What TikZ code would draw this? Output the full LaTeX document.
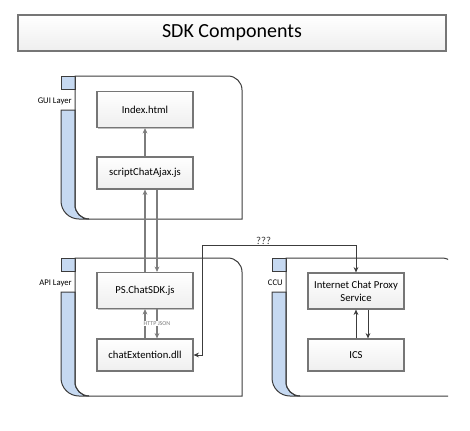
\documentclass[tikz,border=0pt]{standalone}
\usepackage{fontspec}
\setmainfont{Carlito}
\usetikzlibrary{arrows.meta, shadows}
\definecolor{tabblue}{RGB}{198,217,241}
\definecolor{framegray}{RGB}{60,60,60}
\definecolor{boxgray}{RGB}{118,118,118}
\definecolor{linkgray}{RGB}{125,125,125}

\begin{document}
\begin{tikzpicture}[
    x=0.75pt, y=-0.75pt,
    comp/.style={draw=boxgray, line width=0.9pt, top color=white, bottom color=gray!13, minimum width=72pt, minimum height=27pt, inner sep=1pt, align=center, font=\fontsize{8}{9.5}\selectfont, drop shadow={shadow xshift=0.9pt, shadow yshift=-0.9pt, fill=black, opacity=0.25}},
    titlebox/.style={comp, minimum width=321pt, minimum height=27pt, font=\fontsize{15}{18}\selectfont},
    frame/.style={draw=framegray, line width=0.75pt},
    tab/.style={frame, fill=tabblue},
    layerlabel/.style={anchor=east, inner sep=0pt, font=\fontsize{6.5}{7}\selectfont},
    flow/.style={-{Stealth[length=4pt, width=3.6pt]}, line width=1pt, linkgray},
    link/.style={{Stealth[length=4pt, width=3.6pt]}-{Stealth[length=4pt, width=3.6pt]}, line width=0.75pt, framegray},
    callout/.style={-{Stealth[length=4pt, width=3.6pt]}, line width=0.75pt, framegray}
]
    \useasboundingbox (0,0) rectangle (470,430);

    % Title
    \node[titlebox] (title) at (232,33) {SDK Components};

    % Layers
    \begin{scope}
    \clip (0,0) rectangle (448,430);
    \foreach \lx/\ty/\rx/\by/\lbl in {61/76/242/219/GUI Layer, 61/258/242/396/API Layer, 272/258/456/396/CCU}{
        \filldraw[tab] (\lx,\ty) rectangle ({\lx+14},{\ty+13});
        \filldraw[tab] (\lx,{\ty+34}) -- (\lx,{\by-18}) arc[start angle=180, end angle=90, radius=18] -- ({\lx+28},\by) arc[start angle=90, end angle=180, radius=14] -- ({\lx+14},{\ty+34}) -- cycle;
        \draw[frame] ({\lx+14},\ty) -- ({\rx-14},\ty) arc[start angle=-90, end angle=0, radius=14] -- (\rx,\by) -- ({\lx+28},\by) arc[start angle=90, end angle=180, radius=14] -- cycle;
        \node[layerlabel] at ({\lx+11},{\ty+25}) {\lbl};
    }
    \end{scope}

    % Components
    \node[comp] (index) at (145,109.5) {Index.html};
    \node[comp, minimum height=24pt] (script) at (145,173) {scriptChatAjax.js};
    \node[comp] (ps) at (145,290.5) {PS.ChatSDK.js};
    \node[comp, minimum height=24pt] (chatext) at (145,355) {chatExtention.dll};
    \node[comp] (proxy) at (356,291) {Internet Chat Proxy\\Service};
    \node[comp, minimum height=24pt] (ics) at (356,355) {ICS};
    \coordinate (unknown) at (202,245);

    % Connections
    \draw[flow] (script.north) -- (index.south);
    \draw[flow] (ps.north) -- (script.south);
    \draw[flow] ([xshift=9pt]script.south) -- ([xshift=9pt]ps.north);
    \draw[flow] (chatext.north) -- (ps.south);
    \draw[flow] ([xshift=9pt]ps.south) -- node[fill=white, inner sep=0.3pt, font=\fontsize{4.5}{5}\selectfont] {HTTP JSON} ([xshift=9pt]chatext.north);
    \draw[link] (proxy.north) |- node[pos=0.8, above, inner sep=0.3pt, font=\fontsize{8}{9}\selectfont] {???} (unknown) |- (chatext.east);
    \draw[callout] (ics.north) -- (proxy.south);
    \draw[callout] ([xshift=9pt]proxy.south) -- ([xshift=9pt]ics.north);
\end{tikzpicture}
\end{document}
